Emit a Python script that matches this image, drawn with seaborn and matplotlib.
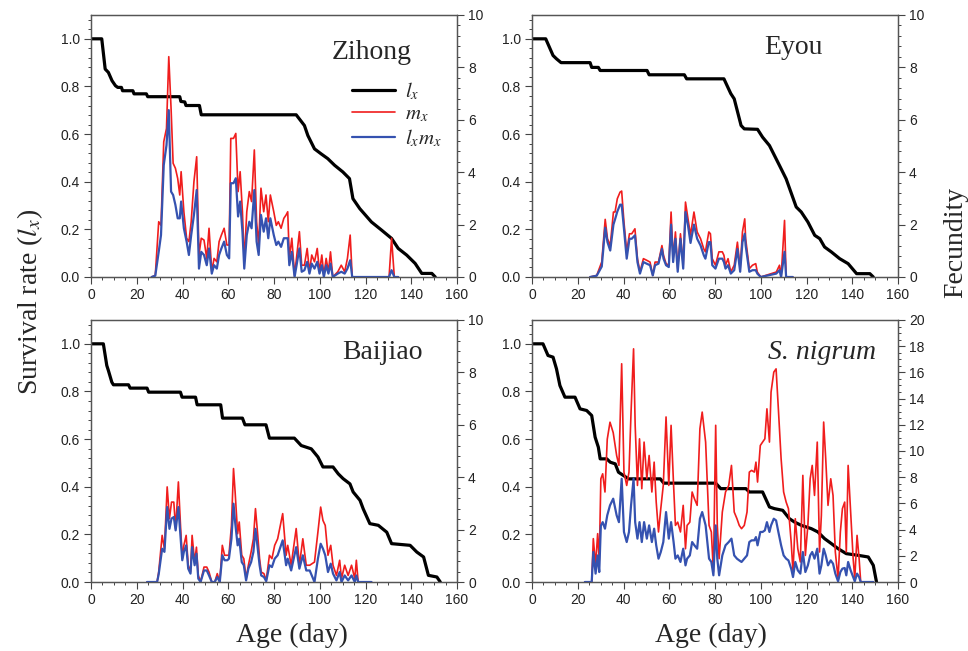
import numpy as np
import matplotlib
matplotlib.use('Agg')
import matplotlib.pyplot as plt
from matplotlib.ticker import MultipleLocator
import seaborn as sns

# ---- Zihong ----
zh_lx_day = [0, 4.7, 6.2, 7.6, 9.2, 10.7, 11.7, 13.3, 13.8, 18.3, 18.8, 24.2, 24.8, 38.8, 39.3, 41, 41.5, 47.4, 48.2,
             89.7, 93.3, 94.8, 97.7, 100.6, 103.5, 106.5, 110.1, 113, 114.5, 117.5, 122.6, 127, 131.4, 134.3, 138,
             141.7, 144.6, 149, 150.5]
zh_lx = [1.0, 1.0, 0.873, 0.859, 0.824, 0.803, 0.796, 0.796, 0.782, 0.782, 0.769, 0.769, 0.757, 0.757, 0.737, 0.735,
         0.72, 0.72, 0.681, 0.681, 0.636, 0.594, 0.538, 0.517, 0.497, 0.469, 0.441, 0.413, 0.329, 0.287, 0.231, 0.197,
         0.162, 0.12, 0.092, 0.057, 0.015, 0.015, 0.0]
zh_day = [26.5, 28.1, 29.6, 30.6, 31.8, 33.0, 34.0, 35.0, 35.9, 36.9, 37.9, 38.8, 39.4, 40.6, 41.8, 42.8, 43.8, 45.0,
          46.2, 47.2, 48.2, 49.4, 50.6, 51.6, 52.8, 53.8, 55.0, 56.0, 57.0, 58.2, 59.4, 60.4, 61.1, 62.3, 63.3, 64.3,
          65.2, 66.2, 67.0, 68.1, 69.2, 70.2, 71.4, 72.4, 73.3, 74.3, 75.5, 76.5, 77.5, 78.4, 79.9, 81.0, 81.9, 83.1,
          84.3, 85.3, 86.0, 86.7, 87.8, 89.0, 91.1, 92.1, 93.3, 94.5, 95.5, 96.5, 97.7, 98.9, 99.9, 100.9, 101.8,
          102.8, 103.8, 104.7, 105.7, 107.9, 109.4, 110.9, 112.1, 113.3, 114.2, 130.3, 131.4, 132.6, 134.3]
zh_mx = [0, 0.06, 2.11, 1.97, 5.16, 5.67, 8.41, 6.44, 4.34, 4.15, 3.76, 3.13, 4.02, 2.49, 1.48, 1.35, 2.11, 3.64,
         4.59, 0.84, 1.48, 1.41, 0.71, 1.86, 0.2, 0.71, 0.58, 1.35, 1.6, 1.86, 1.22, 1.22, 5.29, 5.29, 5.48, 3.26,
         4.02, 2.49, 0.58, 2.49, 3.26, 2.88, 4.85, 2.11, 1.22, 3.39, 2.49, 3.13, 2.11, 3.13, 2.49, 1.97, 2.11, 1.86,
         2.24, 2.37, 2.49, 0.71, 1.48, 0.06, 1.73, 0.45, 0.45, 1.09, 0.2, 0.84, 0.58, 1.09, 0.2, 0.84, 0.06,
         0.71, 0.2, 0.96, 0, 0.2, 0.45, 0.2, 0.71, 1.6, 0, 0, 1.48, 0, 0]
zh_lxmx = [0, 0.05, 0.96, 1.6, 4.27, 5.03, 6.37, 3.26, 3.13, 2.75, 2.24, 2.24, 2.88, 1.86, 1.35, 0.84, 1.6, 2.37,
           3.32, 0.32, 0.96, 0.84, 0.45, 1.09, 0.13, 0.45, 0.32, 0.84, 1.09, 1.35, 0.84, 0.71, 3.58, 3.58, 3.77, 2.31,
           2.88, 1.73, 0.32, 1.6, 2.11, 1.86, 3.32, 1.35, 0.84, 2.37, 1.73, 2.24, 1.48, 2.24, 1.6, 1.22, 1.35, 1.15,
           1.48, 1.48, 1.48, 0.45, 0.96, 0, 1.09, 0.2, 0.26, 0.58, 0.13, 0.51, 0.32, 0.58, 0.13, 0.45, 0,
           0.45, 0.13, 0.51, 0, 0.13, 0.2, 0.13, 0.32, 0.64, 0, 0, 0.26, 0, 0]

# ---- Eyou ----
ey_lx_day = [0, 6.0, 9.2, 10.7, 12.7, 25.4, 26.1, 29.0, 29.8, 50.3, 51.2, 66.6, 67.6, 83.9, 86.9, 88.4, 91.4, 92.8,
             98.6, 100.8, 103.8, 106.0, 108.2, 111.1, 115.5, 117.7, 120.6, 123.6, 125.8, 127.9, 130.9, 134.5, 138.2,
             141.9, 147.7, 149.2]
ey_lx = [1.0, 1.0, 0.93, 0.916, 0.9, 0.9, 0.88, 0.88, 0.867, 0.867, 0.849, 0.849, 0.832, 0.832, 0.77, 0.748, 0.636,
         0.622, 0.62, 0.587, 0.552, 0.51, 0.468, 0.412, 0.294, 0.273, 0.231, 0.175, 0.161, 0.126, 0.105, 0.077, 0.056,
         0.014, 0.014, 0.0]
ey_day = [25.4, 28.3, 30.5, 32.0, 33.0, 34.2, 35.6, 36.3, 37.3, 38.5, 39.2, 40.2, 41.4, 42.6, 43.6, 45.0, 46.1, 47.2,
          48.7, 50.1, 51.6, 52.8, 53.8, 55.3, 56.8, 57.5, 58.6, 59.8, 60.8, 61.7, 62.7, 63.7, 64.9, 66.1, 67.1, 68.2,
          69.3, 70.8, 72.2, 73.7, 75.1, 75.8, 77.3, 78.0, 78.8, 80.2, 81.7, 83.2, 83.9, 84.6, 85.7, 86.9, 88.4, 89.8,
          91.0, 92.0, 93.0, 93.4, 95.0, 96.4, 97.8, 98.5, 100.0, 106.8, 108.2, 108.9, 110.4, 111.1, 114.0]
ey_mx = [0, 0.06, 0.58, 2.2, 1.46, 1.2, 2.48, 2.48, 2.99, 3.24, 3.28, 2.1, 0.96, 1.65, 1.65, 1.84, 0.7, 0.19,
         0.7, 0.64, 0.57, 0.06, 0.57, 0.57, 1.2, 0.83, 0.51, 0.45, 2.48, 0.7, 1.72, 0.32, 1.65, 0.45, 2.86, 2.22,
         1.6, 2.48, 1.72, 1.46, 1.07, 0.96, 1.72, 1.65, 0.7, 0.45, 0.96, 0.96, 0.83, 0.45, 0.7, 0.19, 0.45, 1.33,
         0.32, 1.72, 2.22, 1.46, 0.32, 0.45, 0.51, 0.19, 0, 0.19, 0.45, 0, 2.16, 0, 0]
ey_lxmx = [0, 0.05, 0.4, 1.88, 1.33, 1.01, 2.0, 2.2, 2.5, 2.76, 2.76, 1.84, 0.7, 1.46, 1.46, 1.59, 0.57, 0.13,
           0.57, 0.51, 0.45, 0.06, 0.45, 0.51, 1.07, 0.7, 0.45, 0.38, 2.0, 0.57, 1.46, 0.2, 1.46, 0.32, 2.48, 1.97,
           1.3, 2.0, 1.46, 1.2, 0.83, 0.7, 1.33, 1.33, 0.45, 0.32, 0.7, 0.7, 0.57, 0.32, 0.45, 0.13, 0.26, 1.07,
           0.2, 1.33, 1.65, 1.2, 0.2, 0.26, 0.26, 0.13, 0, 0.13, 0.26, 0, 0.96, 0, 0]

# ---- Baijiao ----
bj_lx_day = [0, 5.4, 6.9, 7.6, 9.1, 9.8, 16.4, 17.1, 24.5, 25.2, 39.1, 39.8, 45.7, 46.4, 56.7, 57.5, 66.2, 67.3, 76.5,
             78.0, 88.9, 91.9, 96.3, 99.2, 101.4, 105.8, 108.1, 110.2, 113.2, 114.6, 117.6, 119.0, 121.9, 125.6, 129.3,
             131.4, 139.5, 142.4, 145.4, 147.5, 151.2, 152.7]
bj_lx = [1.0, 1.0, 0.909, 0.888, 0.839, 0.828, 0.828, 0.814, 0.814, 0.797, 0.797, 0.776, 0.776, 0.744, 0.744, 0.688,
         0.688, 0.66, 0.66, 0.604, 0.604, 0.573, 0.559, 0.525, 0.483, 0.483, 0.454, 0.434, 0.412, 0.378, 0.343, 0.307,
         0.245, 0.238, 0.209, 0.161, 0.154, 0.126, 0.105, 0.028, 0.021, 0.0]
bj_day = [24.5, 28.9, 29.6, 31.1, 32.1, 33.3, 34.3, 35.2, 36.2, 37.0, 38.2, 39.2, 39.9, 40.6, 41.6, 42.5, 43.5, 44.2,
          45.3, 46.1, 46.9, 47.9, 49.4, 50.6, 51.6, 52.8, 54.1, 55.2, 56.3, 57.4, 58.4, 59.6, 60.3, 61.4, 62.3, 63.0,
          64.1, 64.8, 65.9, 66.8, 67.8, 68.8, 70.0, 71.0, 71.9, 72.9, 73.7, 74.4, 75.6, 76.6, 78.0, 79.1, 80.3, 81.6,
          83.8, 85.3, 86.0, 87.5, 89.7, 91.1, 92.6, 94.1, 95.6, 97.7, 99.2, 100.4, 101.4, 102.4, 103.6, 104.8, 105.8,
          107.3, 108.7, 109.5, 110.9, 112.4, 113.9, 115.3, 116.0, 116.8, 122.6]
bj_mx = [0, 0, 0.38, 1.78, 1.27, 3.63, 2.42, 3.05, 3.05, 2.03, 3.82, 2.03, 0.89, 1.4, 1.78, 0.64, 0.38, 1.78,
         0.76, 1.33, 0.25, 0, 0.57, 0.57, 0.38, 0, 0, 0.32, 0, 1.4, 1.02, 1.02, 1.02, 2.16, 4.33, 3.44,
         1.84, 2.29, 1.02, 0.89, 0.13, 0.64, 1.15, 1.65, 2.8, 1.78, 0.89, 0.38, 0.32, 0.06, 1.02, 0.89, 1.4, 1.65,
         2.61, 1.02, 1.4, 0.64, 2.04, 0.64, 1.65, 0.64, 0.64, 0.76, 1.91, 2.86, 2.35, 2.16, 1.02, 1.4, 0.64,
         0.25, 0.83, 0.13, 0.64, 0.25, 0.64, 0.13, 0.83, 0, 0]
bj_lxmx = [0, 0, 0.3, 1.27, 1.15, 2.86, 2.03, 2.42, 2.48, 1.97, 2.86, 1.65, 0.83, 1.15, 1.4, 0.51, 0.32, 1.33,
           0.64, 1.08, 0.13, 0, 0.44, 0.44, 0.25, 0, 0, 0.19, 0, 1.02, 0.83, 0.83, 0.89, 1.65, 2.99, 2.29,
           1.4, 1.65, 0.76, 0.64, 0.06, 0.51, 0.76, 1.15, 2.03, 1.27, 0.64, 0.25, 0.19, 0.03, 0.64, 0.57, 0.89, 1.02,
           1.59, 0.64, 0.89, 0.44, 1.33, 0.51, 1.02, 0.44, 0.44, 0, 0.89, 1.46, 1.27, 1.02, 0.38, 0.7, 0.32,
           0.06, 0.38, 0, 0.25, 0.06, 0.25, 0, 0.25, 0, 0]

# ---- S. nigrum ----
sn_lx_day = [0, 4.8, 7.0, 9.2, 10.7, 12.2, 14.4, 18.8, 21.0, 23.9, 26.1, 27.6, 29.0, 29.8, 32.7, 34.2, 36.4, 37.8,
             40.0, 42.2, 56.1, 57.6, 80.3, 82.5, 93.5, 95.0, 100.8, 103.8, 106.0, 109.6, 112.5, 114.7, 117.7, 122.1,
             125.0, 127.9, 130.9, 133.8, 137.4, 142.6, 147.0, 149.2, 150.6]
sn_lx = [1.0, 1.0, 0.951, 0.944, 0.895, 0.825, 0.776, 0.776, 0.727, 0.72, 0.699, 0.608, 0.566, 0.517, 0.517, 0.503,
         0.496, 0.461, 0.447, 0.433, 0.433, 0.415, 0.415, 0.392, 0.392, 0.378, 0.378, 0.315, 0.308, 0.301, 0.266,
         0.252, 0.238, 0.224, 0.21, 0.182, 0.161, 0.14, 0.119, 0.112, 0.105, 0.07, 0.0]
sn_day = [23.1, 26.1, 26.8, 27.8, 28.7, 29.4, 30.1, 30.9, 31.9, 32.9, 34.1, 35.5, 37.0, 38.0, 39.2, 40.2, 41.4, 42.4,
          43.3, 44.4, 45.1, 46.1, 47.0, 48.0, 49.0, 50.2, 51.2, 52.4, 53.4, 54.3, 55.3, 56.3, 57.4, 58.6, 59.8, 60.8,
          61.9, 62.7, 63.7, 64.9, 66.1, 67.1, 67.8, 69.0, 70.0, 71.0, 72.2, 73.4, 74.4, 75.9, 77.4, 78.4, 79.3, 80.3,
          81.0, 81.8, 83.2, 84.6, 86.0, 87.2, 88.4, 89.6, 90.6, 91.6, 92.8, 94.0, 95.0, 96.0, 97.2, 97.9, 98.6, 99.8,
          100.8, 101.8, 102.7, 103.8, 104.5, 105.7, 106.7, 107.7, 108.9, 110.0, 111.1, 112.1, 113.3, 114.1, 115.1,
          116.2, 117.3, 118.4, 119.5, 120.6, 121.6, 122.5, 123.5, 124.7, 125.7, 126.5, 127.5, 128.4, 129.4, 130.6,
          131.6, 132.6, 133.8, 134.8, 135.7, 136.7, 137.4, 138.2, 139.3, 140.4, 141.1, 142.1, 143.0, 143.7, 149.2]
sn_mx = [0, 0, 3.31, 1.27, 3.69, 1.65, 7.88, 8.26, 6.87, 10.9, 12.2, 11.4, 9.66, 8.9, 16.66, 8.39, 7.37, 8.39,
         12.97, 17.8, 11.96, 7.37, 10.93, 7.12, 10.68, 7.88, 9.66, 6.87, 9.15, 6.1, 3.82, 5.6, 7.4, 12.6, 7.37, 11.96,
         7.37, 4.32, 4.57, 3.82, 5.85, 2.54, 4.32, 4.57, 6.87, 6.36, 5.85, 11.7, 12.97, 10.68, 4.32, 3.82, 0.76, 11.96,
         4.32, 1.78, 5.34, 6.87, 7.37, 8.9, 5.34, 4.83, 4.32, 4.07, 4.32, 5.34, 8.39, 8.52, 8.39, 9.15, 7.63, 10.42,
         10.68, 10.93, 13.22, 10.68, 14.49, 16.02, 16.27, 13.22, 9.41, 6.87, 6.1, 5.6, 3.05, 0.76, 4.83,
         2.54, 1.53, 8.14, 2.03, 4.32, 7.88, 8.9, 6.61, 10.68, 2.29, 5.09, 12.21, 9.41, 5.85, 7.88,
         6.61, 2.29, 0.25, 3.82, 5.6, 6.1, 2.29, 8.9, 5.34, 1.78, 0.25, 3.56, 1.78, 0, 0]
sn_lxmx = [0, 0, 2.29, 0.64, 2.03, 0.76, 4.3, 4.57, 4.07, 5.09, 5.85, 6.36, 5.09, 4.57, 7.88, 3.82, 3.05, 3.82,
           5.85, 7.88, 4.57, 3.31, 4.57, 3.05, 4.57, 3.31, 4.32, 3.05, 4.07, 2.8, 1.78, 2.29, 3.05, 5.34, 3.31, 4.57,
           3.05, 1.78, 2.03, 1.53, 2.54, 1.27, 1.78, 2.03, 3.05, 2.8, 2.54, 4.83, 5.34, 4.32, 1.78, 1.53, 0.51, 4.32,
           1.78, 0.51, 2.03, 2.8, 3.05, 3.31, 2.03, 1.78, 1.65, 1.53, 1.78, 2.03, 3.05, 3.18, 3.18, 3.43, 2.8, 3.82,
           3.82, 3.94, 4.57, 3.82, 4.32, 4.83, 4.7, 3.82, 2.8, 2.03, 1.78, 1.65, 1.02, 0.38, 1.53,
           0.89, 0.64, 2.29, 0.76, 1.27, 2.03, 2.29, 1.78, 2.54, 0.64, 1.27, 2.54, 2.03, 1.27, 1.65,
           1.4, 0.64, 0.05, 0.76, 1.02, 1.07, 0.51, 1.53, 0.89, 0.38, 0.05, 0.64, 0.38, 0, 0]

RED = '#f01d1d'
BLUE = '#3552b0'
SERIF = 'Liberation Serif'

sns.set_style('ticks')
plt.rcParams['font.family'] = ['Liberation Sans', 'DejaVu Sans']
plt.rcParams['mathtext.fontset'] = 'stix'

fig = plt.figure(figsize=(9.68, 6.51), dpi=100)

W = 366 / 968
H = 262 / 651
boxes = [(91 / 968, 1 - 277 / 651), (532 / 968, 1 - 277 / 651),
         (91 / 968, 1 - 582 / 651), (532 / 968, 1 - 582 / 651)]


def panel(box, lx_day, lx, day, mx, lxmx, fmax, title, tx, ty, italic=False, legend=False):
    ax = fig.add_axes([box[0], box[1], W, H])
    ax2 = ax.twinx()
    sns.lineplot(x=lx_day, y=lx, ax=ax, color='black', lw=2.3, legend=False)
    sns.lineplot(x=day, y=mx, ax=ax2, color=RED, lw=1.2, legend=False)
    sns.lineplot(x=day, y=lxmx, ax=ax2, color=BLUE, lw=1.6, legend=False)
    ax.set_xlim(0, 160)
    ax.set_ylim(0, 1.1)
    ax2.set_ylim(0, fmax * 1.0)
    ax.set_xticks(np.arange(0, 161, 20))
    ax.xaxis.set_minor_locator(MultipleLocator(5))
    ax.set_yticks(np.arange(0, 1.01, 0.2))
    ax.yaxis.set_minor_locator(MultipleLocator(0.04))
    ax2.set_yticks(np.arange(0, fmax + 0.1, 2))
    ax2.yaxis.set_minor_locator(MultipleLocator(0.4 if fmax == 10 else 0.5))
    ax.set_xlabel('')
    ax.set_ylabel('')
    ax2.set_ylabel('')
    for a in (ax, ax2):
        a.tick_params(which='major', direction='out', length=5, width=0.8, color='#444444',
                      labelsize=10, labelcolor='#222222', pad=3)
        a.tick_params(which='minor', direction='out', length=2.5, width=0.7, color='#444444')
        for s in a.spines.values():
            s.set_color('#555555')
            s.set_linewidth(0.9)
    ax.text(tx, ty, title, family=SERIF, size=20, ha='center', va='baseline',
            style='italic' if italic else 'normal')
    if legend:
        handles = [ax.get_lines()[0], ax2.get_lines()[0], ax2.get_lines()[1]]
        ax2.legend(handles, [r'$l_x$', r'$m_x$', r'$l_xm_x$'], loc='upper left',
                   bbox_to_anchor=(0.712, 0.75), frameon=False, fontsize=15,
                   handlelength=2.1, handletextpad=0.45, labelspacing=0.12,
                   borderpad=0, borderaxespad=0)
    return ax


# annotation factor: the right axis top (fmax) lines up with 1.1 on the left axis
panel(boxes[0], zh_lx_day, zh_lx, zh_day, zh_mx, zh_lxmx, 10, 'Zihong', 122.6, 0.915, legend=True)
panel(boxes[1], ey_lx_day, ey_lx, ey_day, ey_mx, ey_lxmx, 10, 'Eyou', 114.2, 0.937)
panel(boxes[2], bj_lx_day, bj_lx, bj_day, bj_mx, bj_lxmx, 10, 'Baijiao', 127.5, 0.937)
panel(boxes[3], sn_lx_day, sn_lx, sn_day, sn_mx, sn_lxmx, 20, 'S. nigrum', 126.9, 0.937, italic=True)

fig.text(0.031, 0.537, r'Survival rate ($l_x$)', family=SERIF, size=20, rotation=90, ha='center', va='center')
fig.text(0.987, 0.628, 'Fecundity', family=SERIF, size=20, rotation=90, ha='center', va='center')
fig.text(292 / 968, 1 - 642 / 651, 'Age (day)', family=SERIF, size=20, ha='center', va='baseline')
fig.text(711 / 968, 1 - 642 / 651, 'Age (day)', family=SERIF, size=20, ha='center', va='baseline')

fig.savefig('out.png', dpi=100)
